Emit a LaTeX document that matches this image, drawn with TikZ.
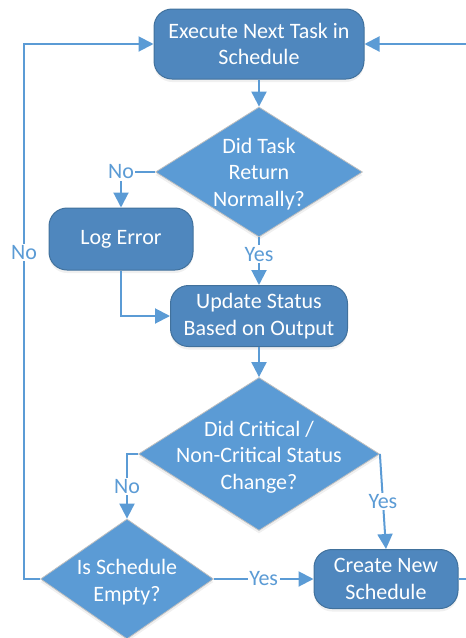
\documentclass[tikz,border=0pt]{standalone}
\usepackage{fontspec}
\setmainfont{Carlito}
\usetikzlibrary{shapes.geometric,arrows.meta,shadows}
\definecolor{boxfill}{HTML}{4F87BE}
\definecolor{boxline}{HTML}{41719C}
\definecolor{diafill}{HTML}{5B9BD5}
\definecolor{diagray}{HTML}{C0C0C0}
\definecolor{conncol}{HTML}{5B9BD5}
\begin{document}
\begin{tikzpicture}[x=1pt,y=-1pt,
  every node/.style={font=\fontsize{22}{26.5}\selectfont},
  box/.style={draw=boxline, fill=boxfill, line width=1pt, rounded corners=18pt,
    text=white, align=center, inner sep=0pt,
    drop shadow={opacity=0.12, shadow xshift=0pt, shadow yshift=-3pt}},
  dia/.style={diamond, draw=diagray, fill=diafill, line width=0.8pt, inner sep=0pt,
    drop shadow={opacity=0.12, shadow xshift=0pt, shadow yshift=-3pt}},
  dtext/.style={text=white, align=center},
  conn/.style={line width=2pt, draw=conncol, -{Triangle[length=15pt,width=15pt]}},
  lbl/.style={text=conncol, fill=white, inner sep=1.5pt}]
\useasboundingbox (0,0) rectangle (466,638);
% nodes
\node[box, minimum width=210pt, minimum height=70pt] (exec) at (259,44) {Execute Next Task in\\Schedule};
\node[dia, minimum width=207pt, minimum height=130pt] (d1) at (259,172) {};
\node[dtext] (d1t) at (259,174) {Did Task\\Return\\Normally?};
\node[box, minimum width=144pt, minimum height=62pt] (log) at (121,239) {Log Error};
\node[box, minimum width=177pt, minimum height=61pt] (update) at (259,316) {Update Status\\Based on Output};
\node[dia, minimum width=241pt, minimum height=153pt] (d2) at (259,454) {};
\node[dtext] (d2t) at (259,457) {Did Critical /\\Non-Critical Status\\Change?};
\node[dia, minimum width=173pt, minimum height=120pt] (d3) at (127,579) {};
\node[dtext] (d3t) at (127,582) {Is Schedule\\Empty?};
\node[box, minimum width=144pt, minimum height=59pt] (create) at (386,579) {Create New\\Schedule};
% helper coordinates
\coordinate (lc) at (24,579);
\coordinate (lt) at (24,44);
\coordinate (rc) at (478,579);
\coordinate (rt) at (478,44);
% connectors
\draw[conn] (exec.south) -- (d1.north);
\draw[conn] (d1.west) -| node[lbl, pos=0.5] {No} (log.north);
\draw[conn] (d1.south) -- node[lbl, pos=0.35] {Yes} (update.north);
\draw[conn] (log.south) |- (update.west);
\draw[conn] (update.south) -- (d2.north);
\draw[conn] (d2.west) -| node[lbl, pos=0.75] {No} (d3.north);
\draw[conn] (d2.east) -- node[lbl] {Yes} (create.north);
\draw[conn] (d3.east) -- node[lbl] {Yes} (create.west);
\draw[conn] (d3.west) -- (lc) -- node[lbl, pos=0.61] {No} (lt) -- (exec.west);
\draw[conn] (create.east) -- (rc) -- (rt) -- (exec.east);
\end{tikzpicture}
\end{document}
